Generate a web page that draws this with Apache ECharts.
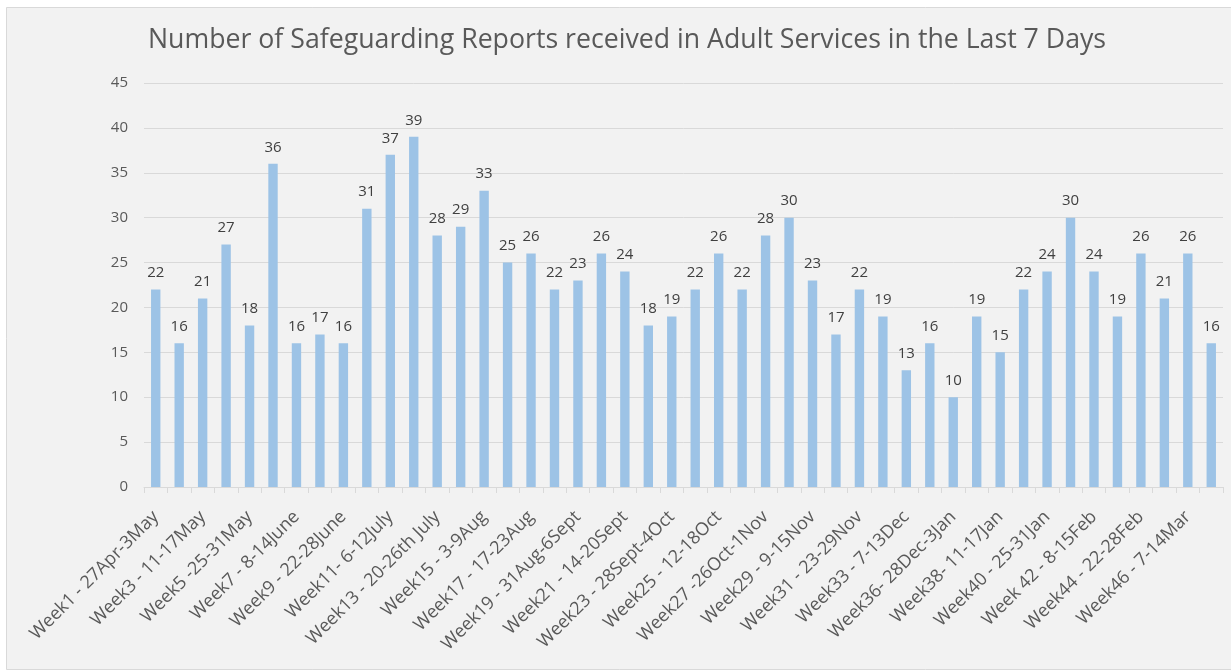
<!DOCTYPE html>
<html><head><meta charset="utf-8">
<script src="https://cdn.jsdelivr.net/npm/echarts@6/dist/echarts.min.js"></script>
<style>html,body{margin:0;padding:0;background:#fff;}#c{width:1231px;height:671px;}</style>
</head><body><div id="c"></div>
<script>
const title = 'Number of Safeguarding Reports received in Adult Services in the Last 7 Days';
const categories = [
 'Week1 - 27Apr-3May','Week2 - 4-10May','Week3 - 11-17May','Week4 - 18-24May','Week5 -25-31May','Week6 - 1-7June',
 'Week7 - 8-14June','Week8 - 15-21June','Week9 - 22-28June','Week10 - 29June-5July','Week11- 6-12July','Week12 - 13-19July',
 'Week13 - 20-26th July','Week14 - 27July-2Aug','Week15 - 3-9Aug','Week16 - 10-16Aug','Week17 - 17-23Aug','Week18 - 24-30Aug',
 'Week19 - 31Aug-6Sept','Week20 - 7-13Sept','Week21 - 14-20Sept','Week22 - 21-27Sept','Week23 - 28Sept-4Oct','Week24 - 5-11Oct',
 'Week25 - 12-18Oct','Week26 - 19-25Oct','Week27 -26Oct-1Nov','Week28 - 2-8Nov','Week29 - 9-15Nov','Week30 - 16-22Nov',
 'Week31 - 23-29Nov','Week32 - 30Nov-6Dec','Week33 - 7-13Dec','Week34/35 - 14-27Dec','Week36- 28Dec-3Jan','Week37 - 4-10Jan',
 'Week38- 11-17Jan','Week39 - 18-24Jan','Week40 - 25-31Jan','Week41 - 1-7Feb','Week 42 - 8-15Feb','Week43 - 16-21Feb',
 'Week44 - 22-28Feb','Week45 - 1-6Mar','Week46 - 7-14Mar','Week47 - 15-21Mar'
];
const reports = [22,16,21,27,18,36,16,17,16,31,37,39,28,29,33,25,26,22,23,26,24,18,19,22,26,22,28,30,23,17,22,19,13,16,10,19,15,22,24,30,24,19,26,21,26,16];
const yTicks = {min:0, max:45, interval:5};

const FONT = '"Open Sans", sans-serif';
const chart = echarts.init(document.getElementById('c'), null, {renderer:'canvas'});
chart.setOption({
  backgroundColor:'#ffffff',
  animation:false,
  graphic:[{type:'rect', z:-10, shape:{x:6.5,y:7.5,width:1240,height:662}, style:{fill:'#f2f2f2', stroke:'#d9d9d9', lineWidth:1}}],
  title:{text:title, left:143, top:22, textStyle:{fontFamily:FONT, fontSize:26.7, fontWeight:'normal', color:'#595959'}},
  grid:{left:144, right:8, top:83, bottom:184, containLabel:false},
  xAxis:{type:'category', data:categories,
    axisLine:{lineStyle:{color:'#d9d9d9'}},
    axisTick:{show:true, interval:0, length:6, lineStyle:{color:'#d9d9d9'}},
    axisLabel:{interval:1, rotate:45, margin:27, fontFamily:FONT, fontSize:18, color:'#595959'}
  },
  yAxis:{type:'value', min:yTicks.min, max:yTicks.max, interval:yTicks.interval,
    axisLine:{show:false}, axisTick:{show:false},
    splitLine:{lineStyle:{color:'#d9d9d9'}},
    axisLabel:{margin:16, fontFamily:FONT, fontSize:15, color:'#595959'}
  },
  series:[{type:'bar', data:reports, barWidth:'40%', itemStyle:{color:'#9dc3e6'},
    label:{show:true, position:'top', distance:9, fontFamily:FONT, fontSize:15, color:'#404040'}}]
});
</script></body></html>
